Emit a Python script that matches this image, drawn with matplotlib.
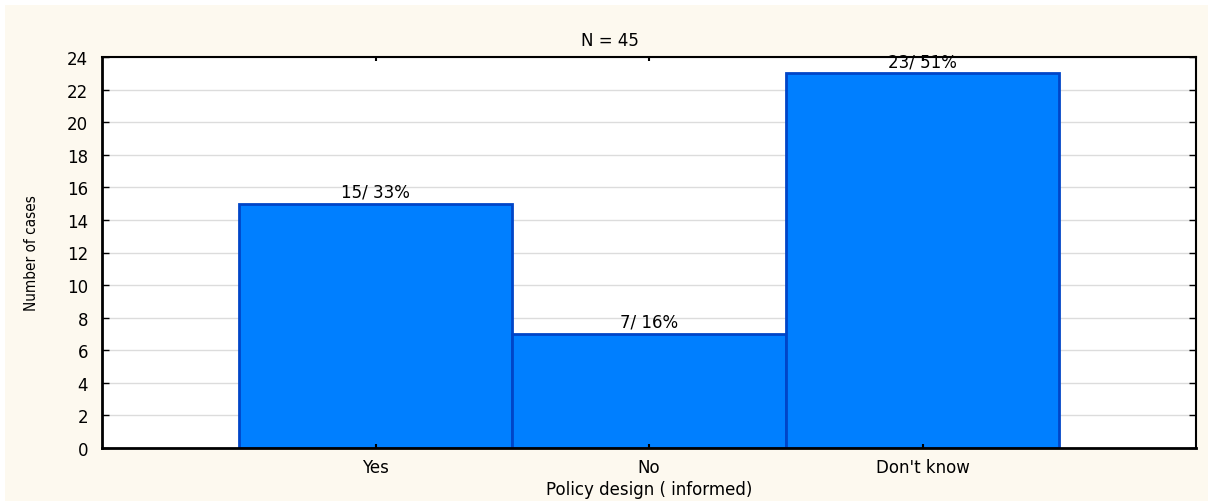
import matplotlib.pyplot as plt
from matplotlib import font_manager
from matplotlib.patches import Rectangle

categories = ["Yes", "No", "Don't know"]
counts = [15, 7, 23]
labels = ["15/ 33%", "7/ 16%", "23/ 51%"]
yticks = list(range(0, 25, 2))

bg = "#fdf9ef"
plt.rcParams['font.family'] = ['DejaVu Sans']

# narrow face for the y label, if there is one
names = set(f.name for f in font_manager.fontManager.ttflist)
if 'Liberation Sans Narrow' in names:
    ylab_font = dict(family='Liberation Sans Narrow', fontsize=13.5)
else:
    ylab_font = dict(family='DejaVu Sans', stretch='condensed', fontsize=11)

fig = plt.figure(figsize=(12.08, 5.02), dpi=100, facecolor="white")
fig.patches.append(Rectangle((5 / 1208, 0), 1 - 5 / 1208, 1 - 6 / 502,
                             transform=fig.transFigure, facecolor=bg,
                             edgecolor="none", zorder=-10))
ax = fig.add_axes([102 / 1208, 53 / 502, 1094 / 1208, 391 / 502])
ax.set_facecolor("white")

# grid lines behind the bars, ticks on top of them
for y in yticks:
    ax.axhline(y, color="#dcdcdc", linewidth=1, zorder=0)

pos = [1, 2, 3]
ax.bar(pos, counts, width=1.0, color="#007fff", edgecolor="#0045c8",
       linewidth=2, zorder=2)
for x, c, t in zip(pos, counts, labels):
    ax.text(x, c + 0.2, t, ha="center", va="bottom", fontsize=12, zorder=6)

ax.set_axisbelow(False)
ax.set_xlim(0, 4)
ax.set_ylim(0, 24)
ax.set_yticks(yticks)
ax.set_xticks(pos)
ax.set_xticklabels(categories, fontsize=12)
ax.tick_params(axis="y", labelsize=12, direction="in", right=True,
               length=5, width=1, pad=10)
ax.tick_params(axis="x", direction="in", top=True, length=3, width=1.5, pad=7)
for s in ax.spines.values():
    s.set_linewidth(1.5)
    s.set_zorder(5)
ax.spines["left"].set_linewidth(2)
ax.spines["bottom"].set_linewidth(2)

ax.set_title("N = 45", fontsize=12, pad=9, x=0.464)
ax.set_xlabel("Policy design ( informed)", fontsize=12, labelpad=3)
ax.set_ylabel("Number of cases", labelpad=20, **ylab_font)

fig.savefig("out.png", dpi=100, facecolor=fig.get_facecolor())
